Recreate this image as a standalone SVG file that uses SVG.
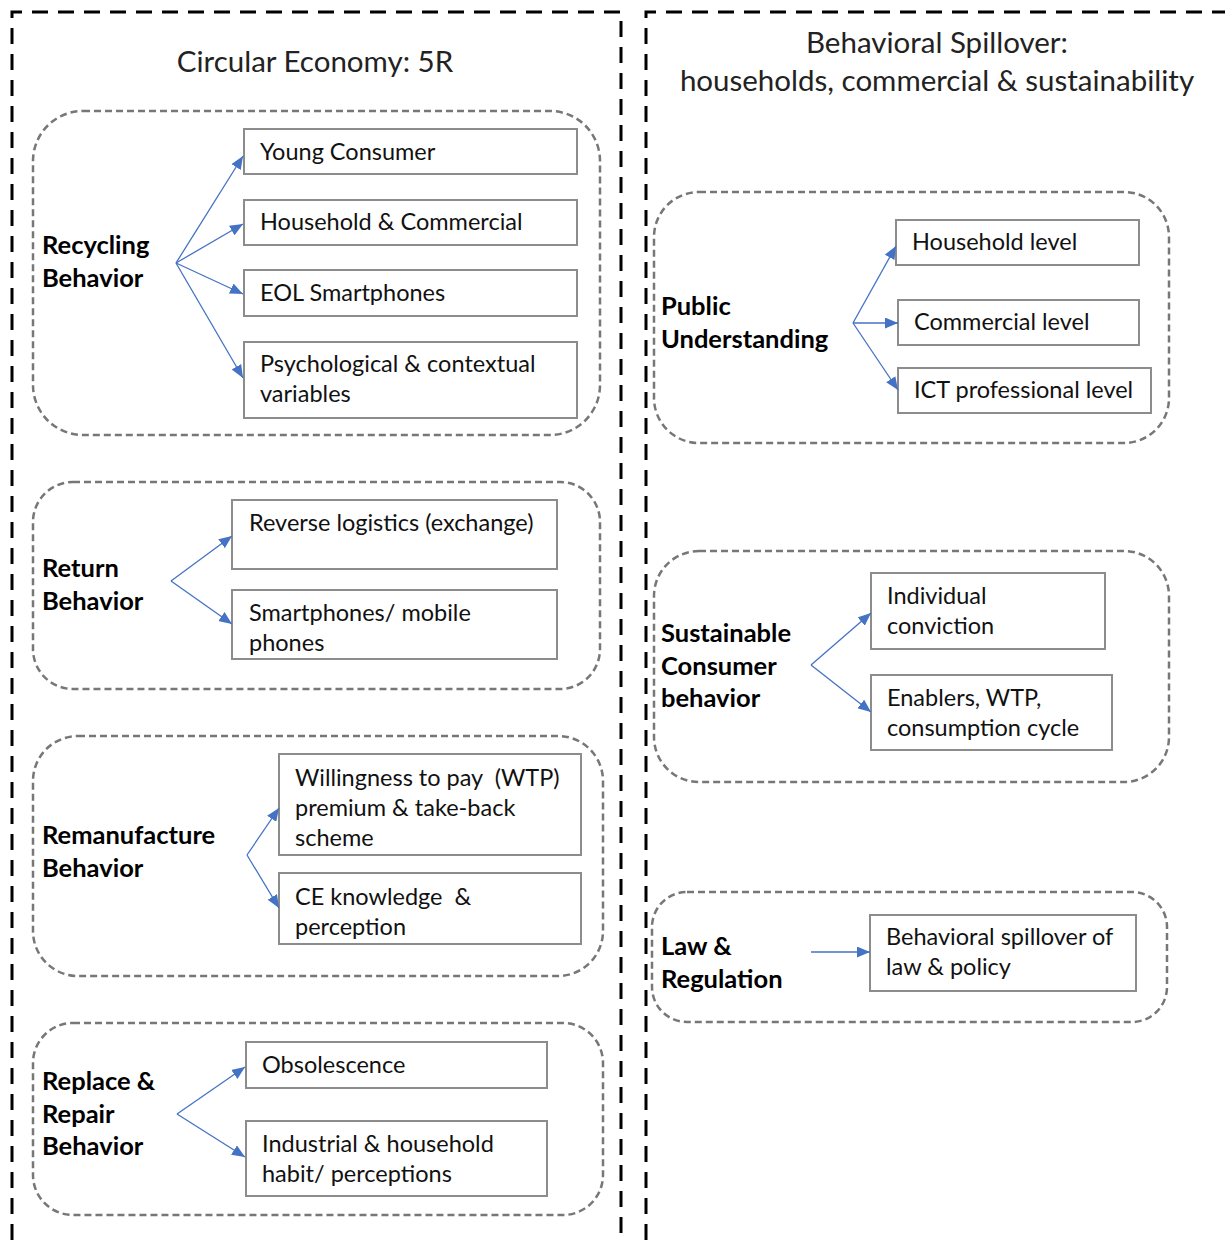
<svg xmlns="http://www.w3.org/2000/svg" width="1225" height="1240" viewBox="0 0 1225 1240">
<defs>
<marker id="ah" markerUnits="userSpaceOnUse" markerWidth="14" markerHeight="11" refX="13" refY="5.5" orient="auto">
<path d="M0,0 L13,5.5 L0,11 z" fill="#4472C4"/>
</marker>
<style>
.panel{fill:none;stroke:#000;stroke-width:3;stroke-dasharray:16 10}
.grp{fill:none;stroke:#777;stroke-width:2.5;stroke-dasharray:7 4}
.box{fill:#fff;stroke:#8c8c8c;stroke-width:2}
.t{font-family:Lato,"Open Sans","Liberation Sans",sans-serif;font-size:23.5px;fill:#111}
.pre{white-space:pre}
.h{font-family:Lato,"Open Sans","Liberation Sans",sans-serif;font-size:29.5px;fill:#222}
.b{font-family:Lato,"Open Sans","Liberation Sans",sans-serif;font-size:25.5px;font-weight:bold;fill:#000}
.c line{stroke:#4472C4;stroke-width:1.3;marker-end:url(#ah)}
</style>
</defs>
<rect width="1225" height="1240" fill="#fff"/>
<g id="panel-left">
<path class="panel" d="M12,1240 V12 H621 V1240"/>
<text class="h" x="315" y="72" text-anchor="middle">Circular Economy: 5R</text>
</g>
<g id="panel-right">
<path class="panel" d="M646,1240 V12 H1225"/>
<text class="h" x="937" y="53" text-anchor="middle">Behavioral Spillover:</text>
<text class="h" x="937" y="91" text-anchor="middle">households, commercial &amp; sustainability</text>
</g>
<g id="recycling">
<rect class="grp" x="33" y="111" width="567" height="324" rx="50"/>
<text class="b" x="42" y="254">Recycling</text>
<text class="b" x="42" y="287">Behavior</text>
</g>
<g id="young"><rect class="box" x="244" y="129" width="333" height="45"/><text class="t" x="260" y="160">Young Consumer</text></g>
<g id="household-commercial"><rect class="box" x="244" y="200" width="333" height="45"/><text class="t" x="260" y="230">Household &amp; Commercial</text></g>
<g id="eol"><rect class="box" x="244" y="270" width="333" height="46"/><text class="t" x="260" y="301">EOL Smartphones</text></g>
<g id="psych"><rect class="box" x="244" y="342" width="333" height="76"/><text class="t" x="260" y="372">Psychological &amp; contextual</text><text class="t" x="260" y="402">variables</text></g>
<g id="return">
<rect class="grp" x="33" y="482" width="567" height="207" rx="40"/>
<text class="b" x="42" y="577">Return</text>
<text class="b" x="42" y="610">Behavior</text>
</g>
<g id="reverse"><rect class="box" x="232" y="500" width="325" height="69"/><text class="t" x="249" y="531">Reverse logistics (exchange)</text></g>
<g id="smartphones"><rect class="box" x="232" y="590" width="325" height="69"/><text class="t" x="249" y="621">Smartphones/ mobile</text><text class="t" x="249" y="651">phones</text></g>
<g id="remanufacture">
<rect class="grp" x="33" y="736" width="570" height="240" rx="45"/>
<text class="b" x="42" y="844">Remanufacture</text>
<text class="b" x="42" y="877">Behavior</text>
</g>
<g id="wtp"><rect class="box" x="279" y="754" width="302" height="101"/><text class="t pre" x="295" y="786">Willingness to pay  (WTP)</text><text class="t" x="295" y="816">premium &amp; take-back</text><text class="t" x="295" y="846">scheme</text></g>
<g id="ce"><rect class="box" x="279" y="873" width="302" height="71"/><text class="t pre" x="295" y="905">CE knowledge  &amp;</text><text class="t" x="295" y="935">perception</text></g>
<g id="replace">
<rect class="grp" x="33" y="1023" width="570" height="192" rx="40"/>
<text class="b" x="42" y="1090">Replace &amp;</text>
<text class="b" x="42" y="1123">Repair</text>
<text class="b" x="42" y="1155">Behavior</text>
</g>
<g id="obsolescence"><rect class="box" x="246" y="1042" width="301" height="46"/><text class="t" x="262" y="1073">Obsolescence</text></g>
<g id="industrial"><rect class="box" x="246" y="1121" width="301" height="75"/><text class="t" x="262" y="1152">Industrial &amp; household</text><text class="t" x="262" y="1182">habit/ perceptions</text></g>
<g id="public">
<rect class="grp" x="654" y="192" width="515" height="251" rx="45"/>
<text class="b" x="661" y="315">Public</text>
<text class="b" x="661" y="348">Understanding</text>
</g>
<g id="household-level"><rect class="box" x="896" y="220" width="243" height="45"/><text class="t" x="912" y="250">Household level</text></g>
<g id="commercial-level"><rect class="box" x="898" y="300" width="241" height="45"/><text class="t" x="914" y="330">Commercial level</text></g>
<g id="ict"><rect class="box" x="898" y="368" width="253" height="45"/><text class="t" x="914" y="398">ICT professional level</text></g>
<g id="sustainable">
<rect class="grp" x="654" y="551" width="515" height="231" rx="45"/>
<text class="b" x="661" y="642">Sustainable</text>
<text class="b" x="661" y="675">Consumer</text>
<text class="b" x="661" y="707">behavior</text>
</g>
<g id="individual"><rect class="box" x="871" y="573" width="234" height="76"/><text class="t" x="887" y="604">Individual</text><text class="t" x="887" y="634">conviction</text></g>
<g id="enablers"><rect class="box" x="871" y="675" width="241" height="75"/><text class="t" x="887" y="706">Enablers, WTP,</text><text class="t" x="887" y="736">consumption cycle</text></g>
<g id="law">
<rect class="grp" x="652" y="892" width="515" height="130" rx="35"/>
<text class="b" x="661" y="955">Law &amp;</text>
<text class="b" x="661" y="988">Regulation</text>
</g>
<g id="spillover-law"><rect class="box" x="870" y="915" width="266" height="76"/><text class="t" x="886" y="945">Behavioral spillover of</text><text class="t" x="886" y="975">law &amp; policy</text></g>
<g id="connectors" class="c">
<line x1="176" y1="263" x2="243" y2="156"/>
<line x1="176" y1="263" x2="243" y2="224"/>
<line x1="176" y1="263" x2="243" y2="294"/>
<line x1="176" y1="263" x2="243" y2="378"/>
<line x1="171" y1="581" x2="232" y2="536"/>
<line x1="171" y1="581" x2="232" y2="624"/>
<line x1="247" y1="855" x2="279" y2="808"/>
<line x1="247" y1="855" x2="279" y2="908"/>
<line x1="177" y1="1114" x2="245" y2="1067"/>
<line x1="177" y1="1114" x2="245" y2="1157"/>
<line x1="853" y1="323" x2="896" y2="246"/>
<line x1="853" y1="323" x2="898" y2="323"/>
<line x1="853" y1="323" x2="898" y2="390"/>
<line x1="811" y1="665" x2="871" y2="613"/>
<line x1="811" y1="665" x2="871" y2="712"/>
<line x1="811" y1="952" x2="870" y2="952"/>
</g>
</svg>
